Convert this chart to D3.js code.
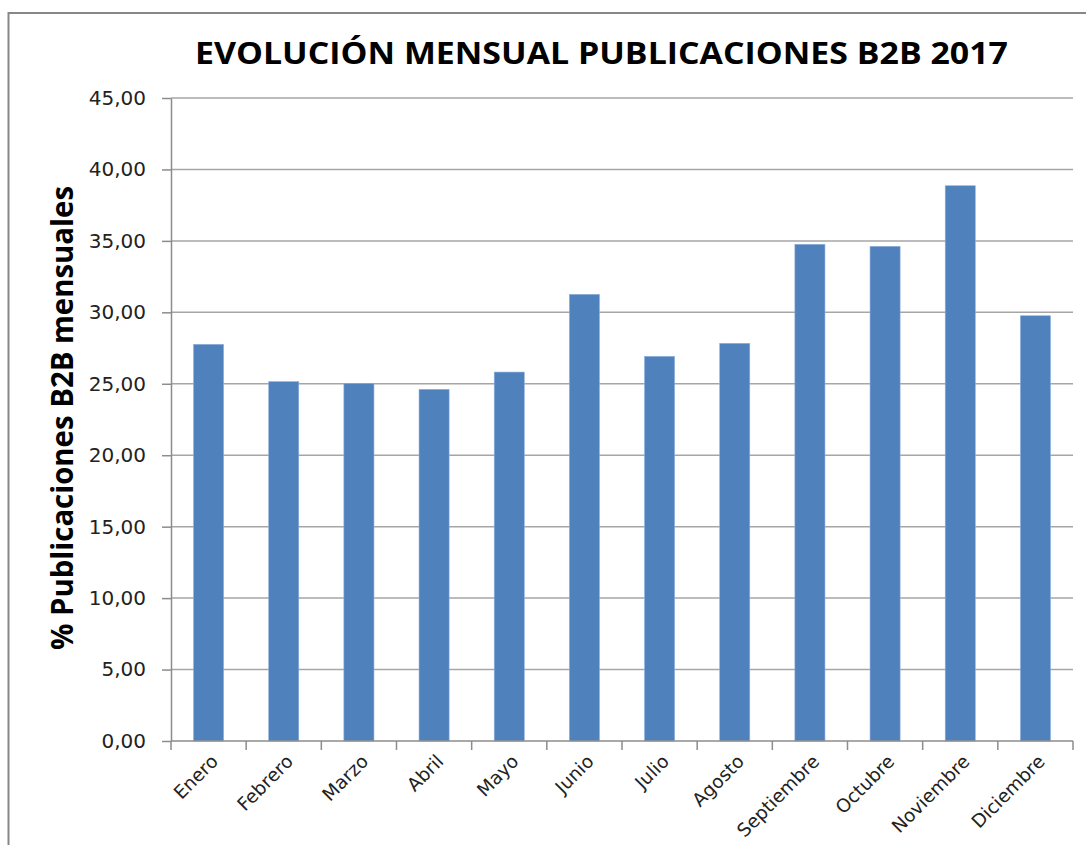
<!DOCTYPE html>
<html>
<head>
<meta charset="utf-8">
<script src="https://cdn.jsdelivr.net/npm/d3@7"></script>
<style>
  html, body { margin: 0; padding: 0; background: #fff; }
  svg { display: block; }
</style>
</head>
<body>
<svg id="chart" width="1086" height="845"></svg>
<script>
// data
var months = ["Enero", "Febrero", "Marzo", "Abril", "Mayo", "Junio", "Julio",
              "Agosto", "Septiembre", "Octubre", "Noviembre", "Diciembre"];
var pctB2B = [27.76, 25.15, 25.03, 24.61, 25.82, 31.26, 26.92, 27.83, 34.76, 34.62, 38.86, 29.76];
var yTicks = [0, 5, 10, 15, 20, 25, 30, 35, 40, 45];

var titleText = "EVOLUCIÓN MENSUAL PUBLICACIONES B2B 2017";
var yTitle = "% Publicaciones B2B mensuales";

var plotLeft = 171, plotRight = 1073, plotTop = 98, plotBottom = 741;

var svg = d3.select("#chart");

// outer frame of the chart (only top and left visible)
svg.append("line")
  .attr("x1", 8.5).attr("x2", 1086).attr("y1", 13).attr("y2", 13)
  .attr("stroke", "#878787").attr("stroke-width", 2);
svg.append("line")
  .attr("x1", 8.5).attr("x2", 8.5).attr("y1", 12).attr("y2", 845)
  .attr("stroke", "#878787").attr("stroke-width", 2);

var x = d3.scaleBand()
  .domain(months)
  .range([plotLeft, plotRight])
  .paddingInner(0.6)
  .paddingOuter(0.3);

var y = d3.scaleLinear()
  .domain([0, 45])
  .range([plotBottom, plotTop]);

var es = d3.formatLocale({decimal: ",", thousands: ".", grouping: [3], currency: ["", "€"]});
var fmt = es.format(".2f");

// gridlines
svg.append("g")
  .selectAll("line")
  .data(yTicks.filter(function(d){ return d > 0; }))
  .enter()
  .append("line")
  .attr("x1", plotLeft)
  .attr("x2", plotRight)
  .attr("y1", function(d){ return y(d); })
  .attr("y2", function(d){ return y(d); })
  .attr("stroke", "#a6a6a6")
  .attr("stroke-width", 1.5);

// bars
svg.append("g")
  .selectAll("rect")
  .data(pctB2B)
  .enter()
  .append("rect")
  .attr("x", function(d, i){ return x(months[i]); })
  .attr("width", x.bandwidth())
  .attr("y", function(d){ return y(d); })
  .attr("height", function(d){ return y(0) - y(d); })
  .attr("fill", "#4f81bd")
  .attr("stroke", "#8eb0dc")
  .attr("stroke-width", 0.6);

// y axis
var yAxis = d3.axisLeft(y)
  .tickValues(yTicks)
  .tickFormat(fmt)
  .tickSizeInner(9)
  .tickSizeOuter(0)
  .tickPadding(16);

var gy = svg.append("g")
  .attr("transform", "translate(" + plotLeft + ",0)")
  .call(yAxis);
gy.select(".domain").attr("stroke", "#8c8c8c").attr("stroke-width", 1.5);
gy.selectAll(".tick line").attr("stroke", "#8c8c8c").attr("stroke-width", 1.5);
gy.selectAll(".tick text")
  .attr("font-family", "DejaVu Sans, Verdana, sans-serif")
  .attr("font-size", 20)
  .attr("fill", "#222");

// x axis: ticks at category boundaries
var bounds = d3.range(months.length + 1);
var bx = d3.scaleLinear().domain([0, months.length]).range([plotLeft, plotRight]);

svg.append("line")
  .attr("x1", plotLeft).attr("x2", plotRight)
  .attr("y1", plotBottom).attr("y2", plotBottom)
  .attr("stroke", "#8c8c8c").attr("stroke-width", 1.5);

svg.append("g")
  .selectAll("line")
  .data(bounds)
  .enter()
  .append("line")
  .attr("x1", function(d){ return bx(d); })
  .attr("x2", function(d){ return bx(d); })
  .attr("y1", plotBottom)
  .attr("y2", plotBottom + 9)
  .attr("stroke", "#8c8c8c")
  .attr("stroke-width", 1.5);

svg.append("g")
  .selectAll("text")
  .data(months)
  .enter()
  .append("text")
  .attr("transform", function(d){
    return "translate(" + (x(d) + x.bandwidth() / 2 + 6) + "," + (plotBottom + 17) + ") rotate(-45)";
  })
  .attr("text-anchor", "end")
  .attr("dy", "0.35em")
  .attr("font-family", "DejaVu Sans, Verdana, sans-serif")
  .attr("font-size", 18.5)
  .attr("fill", "#222")
  .text(function(d){ return d; });

// title
svg.append("text")
  .attr("x", 195)
  .attr("y", 64)
  .attr("textLength", 813)
  .attr("lengthAdjust", "spacingAndGlyphs")
  .attr("font-family", "Open Sans, sans-serif")
  .attr("font-weight", "bold")
  .attr("font-size", 31)
  .attr("fill", "#000")
  .text(titleText);

// y axis title
svg.append("text")
  .attr("transform", "translate(73,650) rotate(-90)")
  .attr("textLength", 464)
  .attr("lengthAdjust", "spacingAndGlyphs")
  .attr("font-family", "Open Sans, sans-serif")
  .attr("font-weight", "bold")
  .attr("font-size", 30)
  .attr("fill", "#000")
  .text(yTitle);
</script>
</body>
</html>
